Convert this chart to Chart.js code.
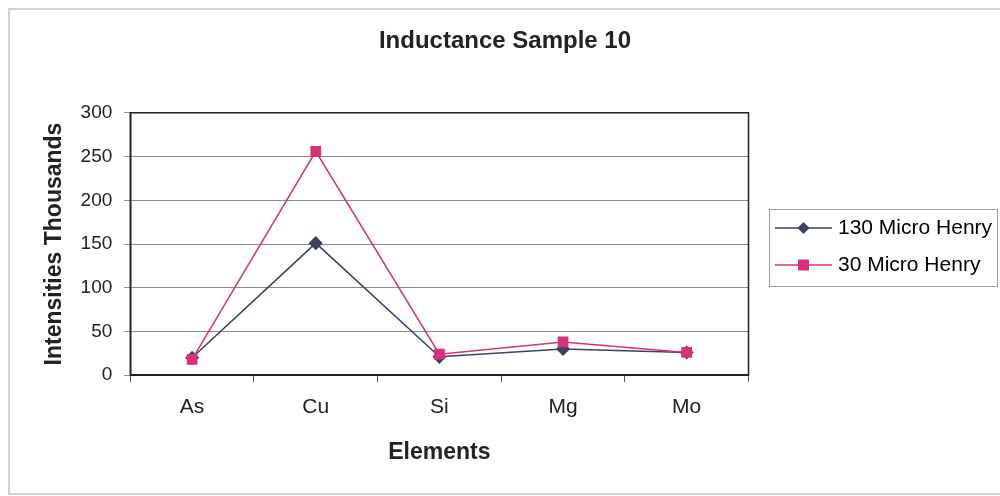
<!DOCTYPE html>
<html>
<head>
<meta charset="utf-8">
<style>
  html, body { margin: 0; padding: 0; background: #fff; }
  #wrap { width: 1000px; height: 496px; position: relative; }
</style>
<script src="https://cdn.jsdelivr.net/npm/chart.js@4/dist/chart.umd.min.js"></script>
</head>
<body>
<div id="wrap"><canvas id="chart" width="1000" height="496"></canvas></div>
<script>
const elements = ['As', 'Cu', 'Si', 'Mg', 'Mo'];
const henry130 = [20, 151, 21, 30, 26];
const henry30 = [18, 256, 24, 38, 26];
const yTicks = [0, 50, 100, 150, 200, 250, 300];

const navy = '#3d4160';
const pink = '#d8317a';
const font = 'Liberation Sans';

// page frame, plot border and the Excel style legend (line + marker, boxed)
const excelLook = {
  id: 'excelLook',
  beforeDraw(chart) {
    const ctx = chart.ctx;
    ctx.save();
    ctx.strokeStyle = '#c4c4c4';
    ctx.lineWidth = 1.5;
    ctx.strokeRect(9, 9, 1000, 485);
    ctx.restore();
  },
  afterDraw(chart) {
    const ctx = chart.ctx;
    const a = chart.chartArea;
    ctx.save();
    ctx.strokeStyle = '#222';
    ctx.lineWidth = 1.5;
    ctx.strokeRect(a.left, a.top, a.right - a.left, a.bottom - a.top);

    const lg = chart.legend;
    const hbs = lg.legendHitBoxes;
    const fs = lg.options.labels.font.size;
    const textX = hbs[0].left + lg.options.labels.boxWidth + fs / 2;
    const lineL = textX - 63;
    const lineR = textX - 6;

    ctx.strokeStyle = '#a0a0a0';
    ctx.lineWidth = 1;
    const top = hbs[0].top - 6;
    const bottom = hbs[hbs.length - 1].top + hbs[hbs.length - 1].height + 8;
    ctx.strokeRect(Math.round(lineL - 6) + 0.5, Math.round(top) + 0.5, 997 - Math.round(lineL - 6), bottom - top);

    hbs.forEach((hb, i) => {
      const ds = chart.data.datasets[i];
      const y = hb.top + hb.height / 2;
      ctx.strokeStyle = ds.borderColor;
      ctx.lineWidth = 1.5;
      ctx.beginPath();
      ctx.moveTo(lineL, y);
      ctx.lineTo(lineR, y);
      ctx.stroke();
      ctx.fillStyle = ds.pointBackgroundColor;
      const cx = (lineL + lineR) / 2;
      ctx.beginPath();
      if (ds.pointStyle === 'rect') {
        ctx.rect(cx - 5.5, y - 5.5, 11, 11);
      } else {
        ctx.moveTo(cx, y - 6);
        ctx.lineTo(cx + 6, y);
        ctx.lineTo(cx, y + 6);
        ctx.lineTo(cx - 6, y);
        ctx.closePath();
      }
      ctx.fill();
    });
    ctx.restore();
  }
};

new Chart(document.getElementById('chart'), {
  type: 'line',
  data: {
    labels: elements,
    datasets: [
      {
        label: '130 Micro Henry',
        data: henry130,
        order: 2,
        borderColor: navy,
        backgroundColor: navy,
        pointBackgroundColor: navy,
        pointBorderColor: navy,
        pointStyle: 'rectRot',
        pointRadius: 6,
        borderWidth: 1.5,
        tension: 0
      },
      {
        label: '30 Micro Henry',
        data: henry30,
        order: 1,
        borderColor: pink,
        backgroundColor: pink,
        pointBackgroundColor: pink,
        pointBorderColor: pink,
        pointStyle: 'rect',
        pointRadius: 6.5,
        borderWidth: 1.5,
        tension: 0
      }
    ]
  },
  options: {
    responsive: false,
    animation: false,
    layout: { padding: { left: 18, right: 8, top: 27, bottom: 30 } },
    plugins: {
      title: {
        display: true,
        text: 'Inductance Sample 10',
        color: '#222',
        font: { family: font, size: 24, weight: 'bold' },
        padding: { top: 0, bottom: 57 }
      },
      legend: {
        position: 'right',
        labels: {
          color: '#222',
          font: { family: font, size: 21 },
          boxWidth: 68,
          boxHeight: 26,
          padding: 11,
          generateLabels(chart) {
            return chart.data.datasets.map((ds, i) => ({
              text: ds.label,
              fillStyle: 'rgba(0,0,0,0)',
              strokeStyle: 'rgba(0,0,0,0)',
              lineWidth: 0,
              datasetIndex: i
            }));
          }
        }
      },
      tooltip: { enabled: false }
    },
    scales: {
      x: {
        offset: true,
        grid: { display: true, offset: true, drawOnChartArea: false, tickLength: 7, color: '#555' },
        border: { color: '#222', width: 1.5 },
        ticks: { color: '#222', font: { family: font, size: 21 }, padding: 12 },
        title: {
          display: true,
          text: 'Elements',
          color: '#222',
          font: { family: font, size: 23, weight: 'bold' },
          padding: { top: 7, bottom: 0 }
        }
      },
      y: {
        min: 0,
        max: 300,
        afterBuildTicks(axis) { axis.ticks = yTicks.map(v => ({ value: v })); },
        grid: { color: '#8a8a8a', tickLength: 6, lineWidth: 1 },
        border: { color: '#222', width: 1.5 },
        ticks: { color: '#222', font: { family: font, size: 19 }, padding: 12 },
        title: {
          display: true,
          text: 'Intensities Thousands',
          color: '#222',
          font: { family: font, size: 23, weight: 'bold' },
          padding: { top: 23, bottom: 0 }
        }
      }
    }
  },
  plugins: [excelLook]
});
</script>
</body>
</html>
